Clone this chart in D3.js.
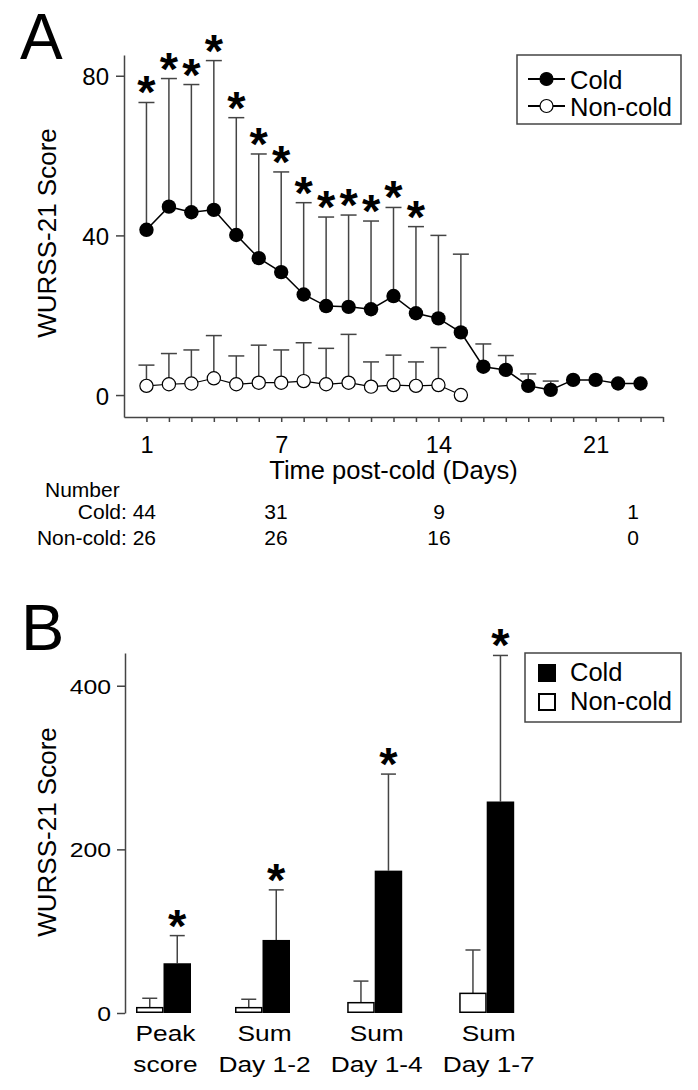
<!DOCTYPE html>
<html><head><meta charset="utf-8">
<script src="https://cdn.jsdelivr.net/npm/d3@7"></script>
<style>
body{margin:0;background:#fff}
svg{display:block}
text{font-family:"Liberation Sans",Arial,Helvetica,sans-serif;fill:#000}
</style>
</head><body>
<svg id="c" width="698" height="1090"></svg>
<script>
// ---------- Panel A data ----------
const days = [1,2,3,4,5,6,7,8,9,10,11,12,13,14,15,16,17,18,19,20,21,22,23];
const coldMean = [41.4,47.2,45.8,46.4,40.1,34.3,30.8,25.2,22.3,22.1,21.5,24.8,20.5,19.2,15.7,7.1,6.3,2.3,1.3,3.8,3.8,2.9,2.9];
const coldSD   = [31.9,32.1,32.0,37.4,29.4,26.1,25.1,23.0,22.3,23.0,22.1,22.2,21.7,20.8,19.6,5.7,3.6,3.0,2.2,null,null,null,null];
const nonColdDays = [1,2,3,4,5,6,7,8,9,10,11,12,13,14,15];
const nonColdMean = [2.3,2.7,2.9,4.2,2.7,3.1,3.1,3.5,2.7,3.1,2.1,2.5,2.3,2.5,0];
const nonColdSD   = [5.2,7.7,8.4,10.7,7.1,9.4,8.2,9.6,9.0,12.1,6.2,7.5,6.0,9.4,null];
const sigDays = [1,2,3,4,5,6,7,8,9,10,11,12,13];
const xTickDays = [1,2,3,4,5,6,7,8,9,10,11,12,13,14,15,16,17,18,19,20,21,22,23,24];
const xTickLabels = [1,7,14,21];
const yTicksA = [0,40,80];
const countCols = ["c1","c7","c14","c21"];
const coldCounts = [44,31,9,1];
const nonColdCounts = [26,26,16,0];

// ---------- Panel B data ----------
const groups = ["Peak score","Sum Day 1-2","Sum Day 1-4","Sum Day 1-7"];
const groupLines = [["Peak","score"],["Sum","Day 1-2"],["Sum","Day 1-4"],["Sum","Day 1-7"]];
const nonColdB   = [6.5,6.5,12.6,24];
const nonColdBSD = [11.5,10.3,26.4,53];
const coldB      = [60.8,89.3,174,258.5];
const coldBSD    = [33.8,61.2,118,178.5];
const yTicksB = [0,200,400];

const svg = d3.select("#c");
const AX = "#444";
const starSize = 47;
const starOff = 6;

function star(sel){
  sel.attr("text-anchor","middle").attr("font-size",starSize).attr("font-weight","bold").text("*");
}

// ================= Panel A =================
const xA = d3.scaleLinear().domain([0,24]).range([124,663]);
const yA = d3.scaleLinear().domain([-5.5,85.2]).range([417,55]);

svg.append("text").attr("x",20).attr("y",59).attr("font-size",64).text("A");

// y axis
const gyA = svg.append("g").attr("transform","translate(124,0)")
  .call(d3.axisLeft(yA).tickValues(yTicksA).tickSize(8).tickSizeOuter(0).tickPadding(7));
gyA.select(".domain").attr("stroke",AX).attr("stroke-width",1.5);
gyA.selectAll(".tick line").attr("stroke",AX).attr("stroke-width",1.5);
gyA.selectAll(".tick text").attr("font-size",24).attr("font-family",null).attr("dy","0.38em");

// x axis
const gxA = svg.append("g").attr("transform","translate(0,417)")
  .call(d3.axisBottom(xA).tickValues(xTickDays).tickSize(5).tickSizeOuter(0).tickPadding(14)
    .tickFormat(d => xTickLabels.includes(d) ? d : ""));
gxA.select(".domain").attr("stroke",AX).attr("stroke-width",1.5);
gxA.selectAll(".tick line").attr("stroke",AX).attr("stroke-width",1.5);
gxA.selectAll(".tick text").attr("font-size",23.5).attr("font-family",null);

svg.append("text").attr("x",(124+663)/2).attr("y",479).attr("text-anchor","middle")
  .attr("font-size",25.5).text("Time post-cold (Days)");
svg.append("text").attr("transform","translate(56,233) rotate(-90)").attr("text-anchor","middle")
  .attr("font-size",26).text("WURSS-21 Score");

// error bars A
function errA(dx, mean, sd){
  const g = svg.append("g");
  const data = dx.map((d,i)=>({d, m:mean[i], s:sd[i]})).filter(o=>o.s!=null);
  g.selectAll("line.v").data(data).join("line")
    .attr("x1",o=>xA(o.d)).attr("x2",o=>xA(o.d))
    .attr("y1",o=>yA(o.m)).attr("y2",o=>yA(o.m+o.s))
    .attr("stroke",AX).attr("stroke-width",1.5);
  g.selectAll("line.c").data(data).join("line")
    .attr("x1",o=>xA(o.d)-8).attr("x2",o=>xA(o.d)+8)
    .attr("y1",o=>yA(o.m+o.s)).attr("y2",o=>yA(o.m+o.s))
    .attr("stroke",AX).attr("stroke-width",1.5);
  return data;
}
errA(days, coldMean, coldSD);
errA(nonColdDays, nonColdMean, nonColdSD);

// stars A
svg.append("g").selectAll("text").data(sigDays).join("text")
  .attr("x",d=>xA(d))
  .attr("y",d=>{const i=days.indexOf(d); return yA(coldMean[i]+coldSD[i]) + starOff;})
  .call(star);

// lines
const line = d3.line().x(d=>xA(d[0])).y(d=>yA(d[1]));
svg.append("path").datum(days.map((d,i)=>[d,coldMean[i]]))
  .attr("d",line).attr("fill","none").attr("stroke","#000").attr("stroke-width",1.5);
svg.append("path").datum(nonColdDays.map((d,i)=>[d,nonColdMean[i]]))
  .attr("d",line).attr("fill","none").attr("stroke","#000").attr("stroke-width",1.2);

// markers
svg.append("g").selectAll("circle").data(nonColdDays.map((d,i)=>[d,nonColdMean[i]])).join("circle")
  .attr("cx",d=>xA(d[0])).attr("cy",d=>yA(d[1])).attr("r",6.6)
  .attr("fill","#fff").attr("stroke","#000").attr("stroke-width",1.2);
svg.append("g").selectAll("circle").data(days.map((d,i)=>[d,coldMean[i]])).join("circle")
  .attr("cx",d=>xA(d[0])).attr("cy",d=>yA(d[1])).attr("r",7.2)
  .attr("fill","#000");

// legend A
const lgA = svg.append("g");
lgA.append("rect").attr("x",517).attr("y",55).attr("width",164).attr("height",69)
  .attr("fill","#fff").attr("stroke",AX).attr("stroke-width",1.5);
[["Cold",79,88.5,true],["Non-cold",106,115.5,false]].forEach(([t,cy,by,filled])=>{
  lgA.append("line").attr("x1",528).attr("x2",565).attr("y1",cy).attr("y2",cy)
    .attr("stroke","#000").attr("stroke-width",1.8);
  lgA.append("circle").attr("cx",546.5).attr("cy",cy).attr("r",6.5)
    .attr("fill",filled?"#000":"#fff").attr("stroke","#000").attr("stroke-width",1.2);
  lgA.append("text").attr("x",570).attr("y",by).attr("font-size",25.5).text(t);
});

// Numbers table
const colX = d3.scaleOrdinal().domain(countCols).range([156,276,439,633]);
svg.append("text").attr("x",45).attr("y",497).attr("font-size",21).text("Number");
svg.append("text").attr("x",colX("c1")).attr("y",519).attr("font-size",21).attr("text-anchor","end")
  .text("Cold: "+coldCounts[0]);
svg.append("text").attr("x",colX("c1")).attr("y",545).attr("font-size",21).attr("text-anchor","end")
  .text("Non-cold: "+nonColdCounts[0]);
countCols.slice(1).forEach((c,k)=>{
  svg.append("text").attr("x",colX(c)).attr("y",519).attr("font-size",21).attr("text-anchor","middle").text(coldCounts[k+1]);
  svg.append("text").attr("x",colX(c)).attr("y",545).attr("font-size",21).attr("text-anchor","middle").text(nonColdCounts[k+1]);
});

// ================= Panel B =================
const yB = d3.scaleLinear().domain([0,440]).range([1013,653]);
const xB = d3.scaleOrdinal().domain(groups).range([163.5,262.5,374.7,486.7]);
const bw = 27.5;

svg.append("text").attr("x",21).attr("y",650).attr("font-size",65).text("B");

const gyB = svg.append("g").attr("transform","translate(125,0)")
  .call(d3.axisLeft(yB).tickValues(yTicksB).tickSize(8).tickSizeOuter(0).tickPadding(6));
gyB.select(".domain").attr("stroke",AX).attr("stroke-width",1.5);
gyB.selectAll(".tick line").attr("stroke",AX).attr("stroke-width",1.5);
gyB.selectAll(".tick text").attr("font-size",21).attr("font-family",null)
  .attr("x",0).attr("dy","0.36em").attr("transform","translate(-14,0) scale(1.18,1)");

svg.append("text").attr("transform","translate(56,832) rotate(-90)").attr("text-anchor","middle")
  .attr("font-size",26).text("WURSS-21 Score");

const bData = groups.map((g,i)=>({g, nc:nonColdB[i], ncs:nonColdBSD[i], c:coldB[i], cs:coldBSD[i]}));
const gB = svg.append("g");
bData.forEach(o=>{
  const xn = xB(o.g)-bw/2, xc = xB(o.g)+bw/2;
  [[xn,o.nc,o.ncs],[xc,o.c,o.cs]].forEach(([x,m,s])=>{
    gB.append("line").attr("x1",x).attr("x2",x).attr("y1",yB(m)).attr("y2",yB(m+s))
      .attr("stroke",AX).attr("stroke-width",1.5);
    gB.append("line").attr("x1",x-7.5).attr("x2",x+7.5).attr("y1",yB(m+s)).attr("y2",yB(m+s))
      .attr("stroke",AX).attr("stroke-width",1.5);
  });
});
gB.selectAll("rect.nc").data(bData).join("rect")
  .attr("x",o=>xB(o.g)-bw+0.75).attr("width",bw-1.5)
  .attr("y",o=>yB(o.nc)).attr("height",o=>yB(0)-yB(o.nc)-0.75)
  .attr("fill","#fff").attr("stroke","#000").attr("stroke-width",1.5);
gB.selectAll("rect.c").data(bData).join("rect")
  .attr("x",o=>xB(o.g)).attr("width",bw)
  .attr("y",o=>yB(o.c)).attr("height",o=>yB(0)-yB(o.c))
  .attr("fill","#000");
gB.selectAll("text.star").data(bData).join("text")
  .attr("x",o=>xB(o.g)+bw/2).attr("y",o=>yB(o.c+o.cs)+starOff)
  .call(star);

// category labels
bData.forEach((o,i)=>{
  groupLines[i].forEach((t,j)=>{
    svg.append("text").attr("transform",`translate(${xB(o.g)+2},${1041+j*31}) scale(1.17,1)`)
      .attr("text-anchor","middle").attr("font-size",22.5).text(t);
  });
});

// legend B
const lgB = svg.append("g");
lgB.append("rect").attr("x",525).attr("y",653).attr("width",156).attr("height",69)
  .attr("fill","#fff").attr("stroke",AX).attr("stroke-width",1.5);
lgB.append("rect").attr("x",538).attr("y",664).attr("width",18).attr("height",18).attr("fill","#000");
lgB.append("rect").attr("x",539).attr("y",694).attr("width",16).attr("height",16)
  .attr("fill","#fff").attr("stroke","#000").attr("stroke-width",2);
lgB.append("text").attr("x",570).attr("y",681).attr("font-size",25.5).text("Cold");
lgB.append("text").attr("x",570).attr("y",710).attr("font-size",25.5).text("Non-cold");
</script>
</body></html>
